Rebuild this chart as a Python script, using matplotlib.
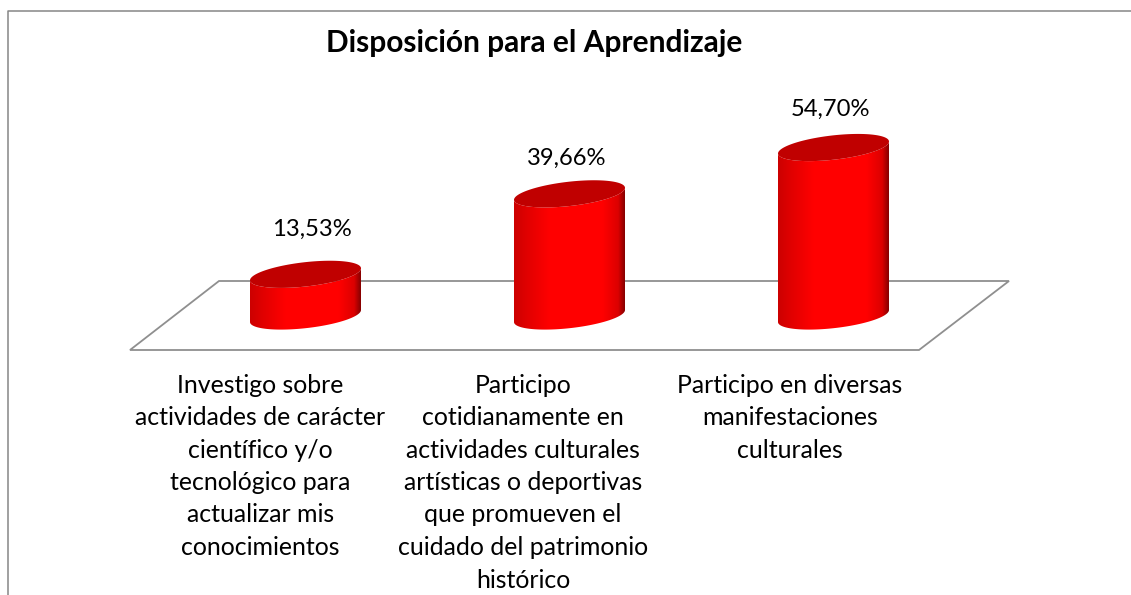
#!/usr/bin/env python3
# -*- coding: utf-8 -*-
import numpy as np
import matplotlib
matplotlib.use("Agg")
import matplotlib.pyplot as plt
from matplotlib.colors import LinearSegmentedColormap
from matplotlib.patches import Polygon

# chart values
categories = [
    "Investigo sobre\nactividades de carácter\ncientífico y/o\ntecnológico para\nactualizar mis\nconocimientos",
    "Participo\ncotidianamente en\nactividades culturales\nartísticas o deportivas\nque promueven el\ncuidado del patrimonio\nhistórico",
    "Participo en diversas\nmanifestaciones\nculturales",
]
values = [13.53, 39.66, 54.70]
valueLabels = ["13,53%", "39,66%", "54,70%"]
title = "Disposición para el Aprendizaje"

plt.rcParams['font.family'] = ['Lato', 'DejaVu Sans']

W, H = 1131, 595
fig = plt.figure(figsize=(W / 100, H / 100), dpi=100)
ax = fig.add_axes([0, 0, 1, 1])
ax.axis('off')

# scales: one category = 264 px, one percent = 3.08 px, baseline at y=316 px
pxX = 264.0
pxY = 3.08
x0 = 305.5
y0 = 316.0
xlim = (-x0 / pxX, (W - x0) / pxX)
ylim = ((y0 - H) / pxY, y0 / pxY)

def dx(px):
    return px / pxX

def dy(px):
    return px / pxY

# floor and outer frame, offsets from the baseline
floorColor = '#8f8f8f'
floorX = [dx(219 - x0), dx(1009 - x0), dx(919 - x0), dx(130 - x0)]
floorY = [dy(y0 - 281), dy(y0 - 281), dy(y0 - 350), dy(y0 - 350)]
ax.add_patch(Polygon(np.column_stack([floorX, floorY]), closed=True, fill=False,
                     edgecolor=floorColor, lw=1.3, zorder=1))
ax.plot([dx(7.5 - x0), dx(7.5 - x0), dx(W - x0)],
        [ylim[0], dy(y0 - 10.5), dy(y0 - 10.5)],
        color='#868686', lw=1.1, zorder=1, solid_capstyle='butt')

# side shading of the cylinders
sideCmap = LinearSegmentedColormap.from_list('side', [
    (0.0, '#cc0000'), (0.10, '#de0000'), (0.32, '#ff0000'), (0.80, '#ff0000'),
    (0.94, '#dc0000'), (1.0, '#860000')])
gradient = np.linspace(0, 1, 256).reshape(1, -1)

rx = 55.5   # half width in px
ry = 12.2   # half minor extent in px
tilt = 6.0  # right side is this much higher than the centre

def ringX(i, t):
    return i + dx(rx * np.cos(t))

def ringY(v, t):
    return v + dy(tilt * np.cos(t) + ry * np.sin(t))

t = np.linspace(0, 2 * np.pi, 200)
tFront = np.linspace(np.pi, 2 * np.pi, 100)

for i, v in enumerate(values):
    # body: front half of the bottom ring then up and across the top
    sideX = np.concatenate([ringX(i, tFront), ringX(i, tFront[::-1])])
    sideY = np.concatenate([ringY(0, tFront), ringY(v, tFront[::-1])])
    side = Polygon(np.column_stack([sideX, sideY]), closed=True, transform=ax.transData,
                   fill=False, edgecolor='none')
    ax.add_patch(side)
    im = ax.imshow(gradient, cmap=sideCmap, aspect='auto', zorder=2,
                   extent=[i - dx(rx), i + dx(rx), -dy(20), v + dy(20)])
    im.set_clip_path(side)
    ax.fill(ringX(i, t), ringY(v, t), color='#c00000', lw=0, zorder=3)

# value labels sit above the cylinder tops
labelShift = [45, 36, 38]
labelX = [6.5, -3, -3]
for i, v in enumerate(values):
    ax.text(i + dx(labelX[i]), v + dy(labelShift[i]), valueLabels[i], ha='center', va='center',
            fontsize=17.1, color='#000000', zorder=4)

# category labels
catShift = [-45, -46.5, -43.5]
for i, c in enumerate(categories):
    ax.text(i + dx(catShift[i]), dy(y0 - 373.5), c, ha='center', va='top', multialignment='center',
            fontsize=17.9, linespacing=1.5, color='#000000', zorder=4)

ax.text(dx(534.5 - x0), dy(y0 - 43), title, ha='center', va='center',
        fontsize=21.5, fontweight='bold', color='#000000', zorder=4)

ax.set_xlim(*xlim)
ax.set_ylim(*ylim)

fig.savefig('out.png', dpi=100, facecolor='white')
